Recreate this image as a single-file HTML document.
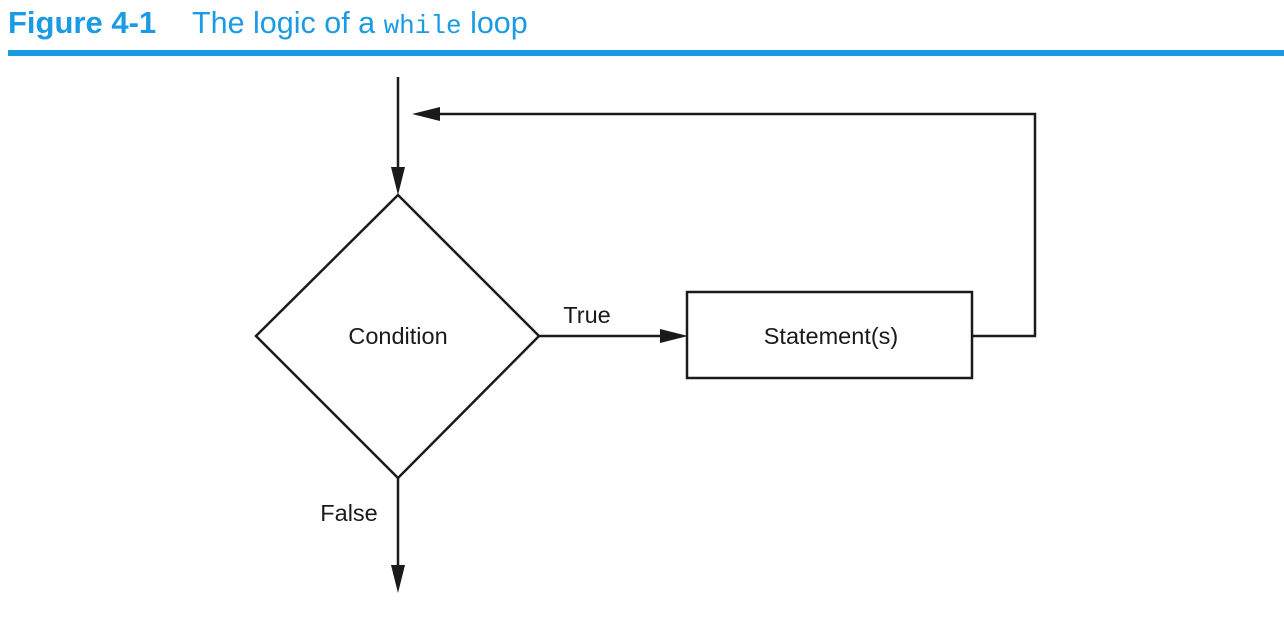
<!DOCTYPE html>
<html><head><meta charset="utf-8"><style>
html,body{margin:0;padding:0;background:#fff;}
</style></head><body>
<svg width="1284" height="614" viewBox="0 0 1284 614" xmlns="http://www.w3.org/2000/svg">
<text x="8" y="33" font-family="Liberation Sans, sans-serif" font-size="31" fill="#1b9be3"><tspan font-weight="bold">Figure 4-1</tspan></text>
<text x="192" y="33" font-family="Liberation Sans, sans-serif" font-size="30.5" fill="#1b9be3"><tspan>The logic of a </tspan><tspan font-family="Liberation Mono, monospace" font-size="26">while</tspan><tspan> loop</tspan></text>
<rect x="8" y="50" width="1276" height="6" fill="#1b9be3"/>
<g stroke="#1a1a1a" stroke-width="2.5" fill="none">
<line x1="398" y1="77" x2="398" y2="170"/>
<polygon points="256,336 398,195 539,336 398,478"/>
<line x1="539" y1="336" x2="665" y2="336"/>
<rect x="687" y="292" width="285" height="86"/>
<polyline points="972,336 1035,336 1035,114 438,114"/>
<line x1="398" y1="478" x2="398" y2="568"/>
</g>
<g fill="#1a1a1a">
<polygon points="391,167 405,167 398,195"/>
<polygon points="660,329 660,343 688,336"/>
<polygon points="440,107 440,121 412,114"/>
<polygon points="391,565 405,565 398,593"/>
</g>
<g font-family="Liberation Sans, sans-serif" font-size="23.5" fill="#1a1a1a" text-anchor="middle">
<text x="398" y="344">Condition</text>
<text x="831" y="344">Statement(s)</text>
<text x="587" y="323">True</text>
<text x="349" y="521">False</text>
</g>
</svg>
</body></html>
